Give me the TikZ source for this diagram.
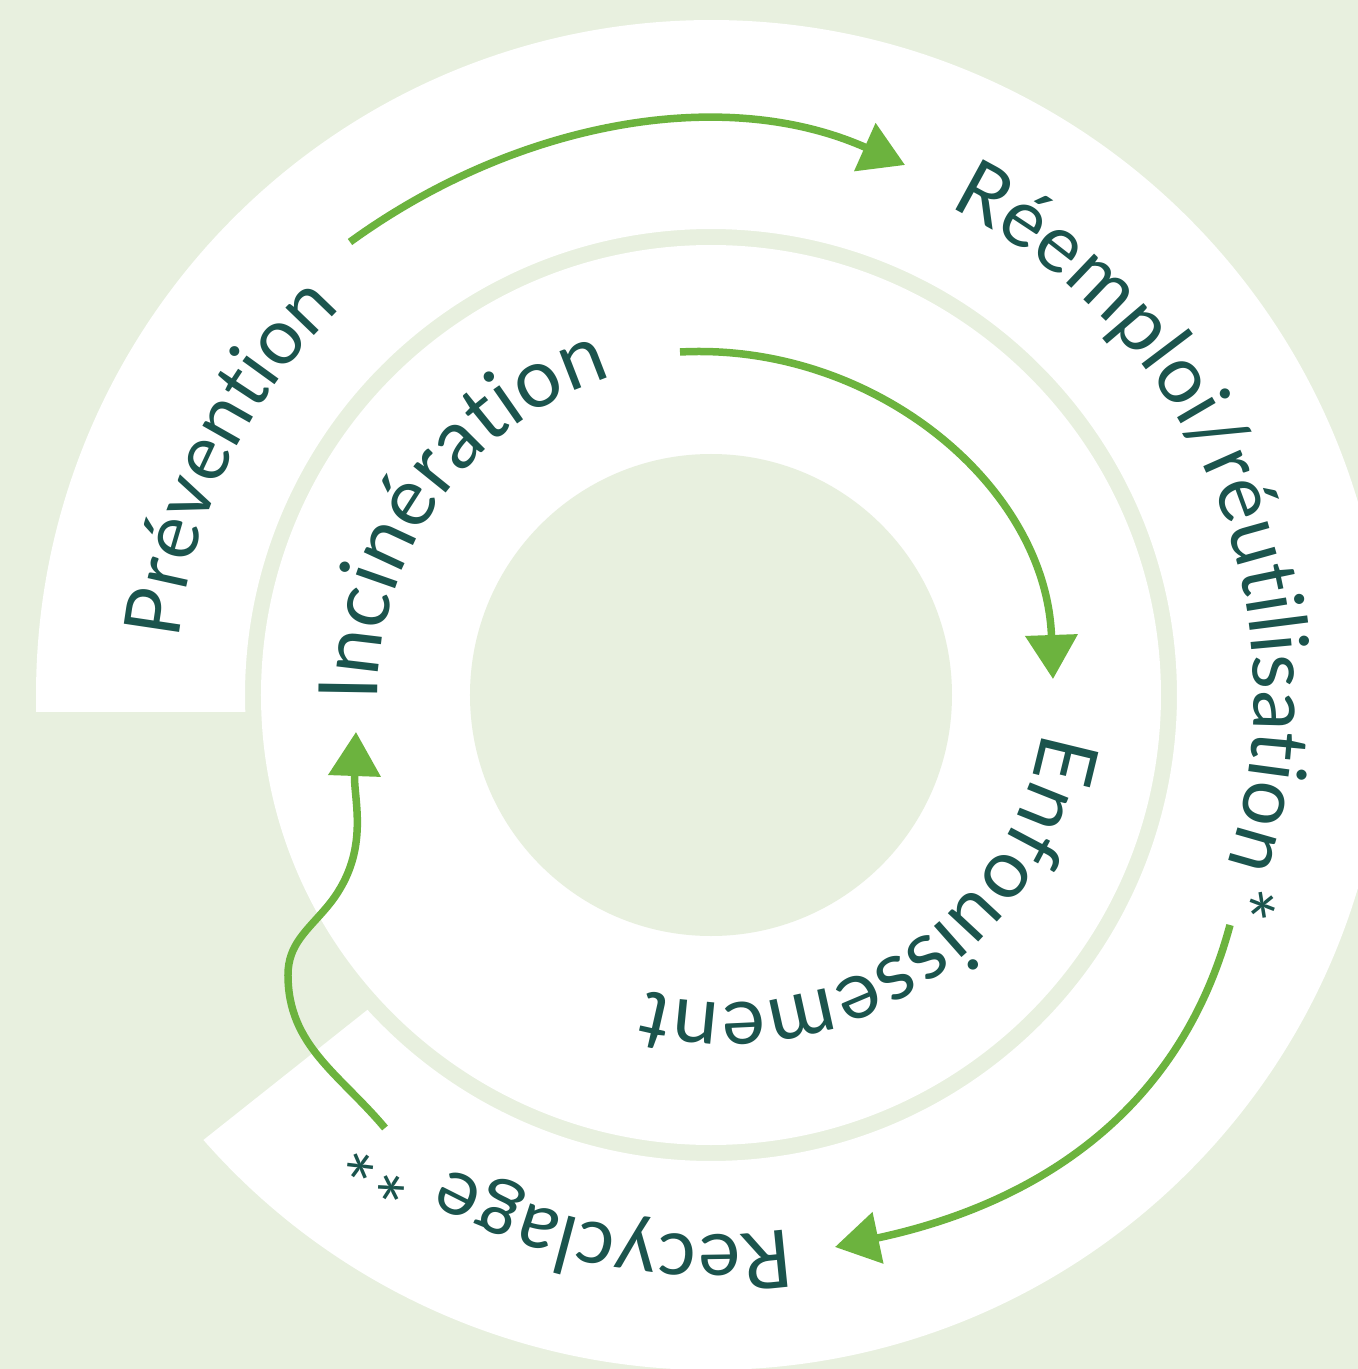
\documentclass[tikz,border=0pt]{standalone}
\usepackage{fontspec}
\newfontfamily\latofont{Lato}
\usetikzlibrary{arrows.meta,decorations.text}
\definecolor{bgg}{HTML}{E8F0DF}
\definecolor{txt}{HTML}{1B544D}
\definecolor{arr}{HTML}{6CB33E}
\newcommand\lbl{\latofont\fontsize{80}{96}\selectfont}
\newcommand\lblp{\latofont\fontsize{78}{94}\selectfont}
\newcommand\lbli{\latofont\fontsize{82}{98}\selectfont}
\newcommand\lblsp{\latofont\fontsize{30}{36}\selectfont}
\begin{document}
\begin{tikzpicture}[x=1pt,y=1pt,
  flow/.style={draw=arr, line width=7.5pt, -{Triangle[length=44pt,width=51pt]}},
  lab/.style={decorate, decoration={text along path, text format delimiters={|}{|}, text color=txt, text align=left}}]
\useasboundingbox (-711,-674) rectangle (647,695);
\fill[bgg] (-711,-674) rectangle (647,695);
% outer band
\fill[white] (181.44:675pt) arc[start angle=181.44, end angle=-138.76, radius=675pt]
  -- (-137.5:466pt) arc[start angle=-137.5, end angle=182.09, radius=466pt] -- cycle;
% inner band
\fill[white] (0,0) circle[radius=450pt];
\fill[bgg] (0,0) circle[radius=241pt];
% labels
\path[lab, decoration={text={|\lblp|Prévention}}] (174:535pt) arc[start angle=174, end angle=60, radius=535pt];
\path[lab, decoration={text={|\lbl|Réemploi/réutilisation|\lblsp| |\lbl|*}}] (64:543pt) arc[start angle=64, end angle=-90, radius=543pt];
\path[lab, decoration={text={|\lbl|Recyclage **}}] (-81.6:540pt) arc[start angle=-81.6, end angle=-190, radius=540pt];
\path[lab, decoration={text={|\lbli|Incinération}}] (181:333pt) arc[start angle=181, end angle=60, radius=333pt];
\path[lab, decoration={text={|\lbli|Enfouissement}}]
  plot[smooth, variable=\t, domain=-6.3:-160, samples=40] ({\t}:{334+0.324*(\t+6.3)});
% arrows
\coordinate (p1s) at (-361,453); \coordinate (p1e) at (194,530);
\coordinate (p2s) at (-31,343); \coordinate (p2e) at (342,16);
\coordinate (p3s) at (519,-230); \coordinate (p3e) at (124,-552);
\coordinate (p4s) at (-326,-433); \coordinate (p4a) at (-423,-280);
\coordinate (p4b) at (-384,-212); \coordinate (p4e) at (-355,-37);
\draw[flow] (p1s) to[out=36,in=156,looseness=0.92] (p1e);
\draw[flow] (p2s) to[out=3,in=92] (p2e);
\draw[flow] (p3s) to[out=-105,in=12] (p3e);
\draw[flow] (p4s) to[out=130,in=-90] (p4a) to[out=90,in=-130] (p4b) to[out=50,in=-92] (p4e);
\end{tikzpicture}
\end{document}
